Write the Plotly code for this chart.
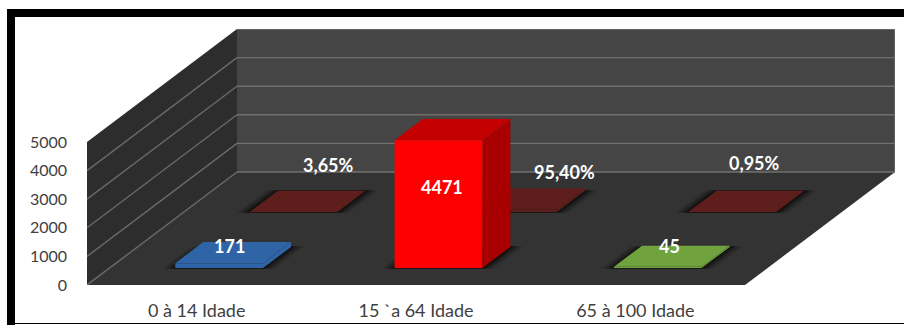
import plotly.graph_objects as go

# Chart data
categories = ["0 à 14 Idade", "15 `a 64 Idade", "65 à 100 Idade"]
counts = [171, 4471, 45]
count_colors = ["#2F65A6", "#FF0000", "#70A23E"]
shares = [3.65, 95.40, 0.95]
share_labels = ["3,65%", "95,40%", "0,95%"]
value_ticks = [0, 1000, 2000, 3000, 4000, 5000]

# Canvas and plot-area layout (pixels)
WIDTH, HEIGHT = 904, 325
LEFT, RIGHT, TOP, BOTTOM = 87, 895, 29, 285

# Oblique projection: depth 0 is the front of the floor, depth 1 the back wall
X_MAX = 3 + 150 / 219.33
Y_MAX = 5000 * 256 / 143
DEPTH_X = 150 / 219.33
DEPTH_Y = 5000 * 113 / 143
BAR_WIDTH = 0.40
BAR_DEPTH = 0.187
FRONT_ROW = 0.15
BACK_ROW = 0.646


def project(cat, depth, value):
    return cat + depth * DEPTH_X, value + depth * DEPTH_Y


def polygon(points, color, opacity=1.0):
    xs, ys = zip(*[project(*p) for p in points + points[:1]])
    return go.Scatter(
        x=xs, y=ys, mode="lines", fill="toself", fillcolor=color,
        line=dict(width=0), opacity=opacity, hoverinfo="skip", showlegend=False,
    )


def segment(p, q, color, width=1.4):
    xs, ys = zip(project(*p), project(*q))
    return go.Scatter(
        x=xs, y=ys, mode="lines", line=dict(color=color, width=width),
        hoverinfo="skip", showlegend=False,
    )


def shadow(center, row):
    # Soft dark halo on the floor beneath a bar
    traces = []
    for grow, alpha in ((0.055, 0.12), (0.04, 0.18), (0.025, 0.26), (0.012, 0.34)):
        x0, x1 = center - BAR_WIDTH / 2 - grow, center + BAR_WIDTH / 2 + grow
        d0, d1 = row - 0.006, row + BAR_DEPTH + 0.006
        traces.append(polygon([(x0, d0, 0), (x1, d0, 0), (x1, d1, 0), (x0, d1, 0)], "#000000", alpha))
    return traces


def box(center, row, value, front, top, side):
    x0, x1 = center - BAR_WIDTH / 2, center + BAR_WIDTH / 2
    d0, d1 = row, row + BAR_DEPTH
    return [
        polygon([(x1, d0, 0), (x1, d1, 0), (x1, d1, value), (x1, d0, value)], side),
        polygon([(x0, d0, value), (x1, d0, value), (x1, d1, value), (x0, d1, value)], top),
        polygon([(x0, d0, 0), (x1, d0, 0), (x1, d0, value), (x0, d0, value)], front),
    ]


traces = []

# Walls and floor
traces.append(polygon([(0, 0, 0), (0, 1, 0), (0, 1, Y_MAX - DEPTH_Y), (0, 0, Y_MAX - DEPTH_Y)], "#2D2D2D"))
traces.append(polygon([(0, 1, 0), (3, 1, 0), (3, 1, Y_MAX - DEPTH_Y), (0, 1, Y_MAX - DEPTH_Y)], "#454545"))
traces.append(polygon([(0, 0, 0), (3, 0, 0), (3, 1, 0), (0, 1, 0)], "#333333"))

# Gridlines across the side wall and the back wall
for tick in value_ticks:
    if tick < value_ticks[-1]:
        traces.append(segment((0, 0, tick), (0, 1, tick), "#6A6A6A"))
    traces.append(segment((0, 1, tick), (3, 1, tick), "#707070"))
traces.append(segment((3, 1, 0), (3, 1, 5000), "#707070"))

# Rear row: percentage shares
for i, share in enumerate(shares):
    traces += shadow(i + 0.5, BACK_ROW)
for i, share in enumerate(shares):
    traces += box(i + 0.5, BACK_ROW, share, "#5E1F1C", "#5E1F1C", "#5E1F1C")

# Front row: counts
for i, count in enumerate(counts):
    traces += shadow(i + 0.5, FRONT_ROW)
for i, (count, color) in enumerate(zip(counts, count_colors)):
    if count > 1000:
        traces += box(i + 0.5, FRONT_ROW, count, color, "#C40000", "#A80000")
    else:
        traces += box(i + 0.5, FRONT_ROW, count, color, color, color)

fig = go.Figure(traces)


# Data labels, nudged in pixels from the faces they describe
LABEL_FONT = dict(family="Lato, Open Sans, sans-serif", size=18, color="#FFFFFF", weight="bold")
count_shifts = [(-4, 7), (3, 17), (-2, 10)]
share_shifts = [(21, 36), (38, 27), (8, 38)]

for i, (count, (sx, sy)) in enumerate(zip(counts, count_shifts)):
    depth = FRONT_ROW if count > 1000 else FRONT_ROW + BAR_DEPTH / 2
    height = count / 2 if count > 1000 else count
    x, y = project(i + 0.5, depth, height)
    fig.add_annotation(x=x, y=y, text=str(count), showarrow=False, xshift=sx, yshift=sy, font=LABEL_FONT)

for i, (label, (sx, sy)) in enumerate(zip(share_labels, share_shifts)):
    x, y = project(i + 0.5, BACK_ROW + BAR_DEPTH / 2, shares[i])
    fig.add_annotation(x=x, y=y, text=label, showarrow=False, xshift=sx, yshift=sy, font=LABEL_FONT)


def paper_rect(x0, y0, x1, y1):
    # Frame rectangle given in canvas pixels, converted to paper fractions
    return dict(
        type="rect", xref="paper", yref="paper", layer="above",
        x0=(x0 - LEFT) / (RIGHT - LEFT), x1=(x1 - LEFT) / (RIGHT - LEFT),
        y0=(BOTTOM - y0) / (BOTTOM - TOP), y1=(BOTTOM - y1) / (BOTTOM - TOP),
        fillcolor="#000000", line=dict(width=0),
    )


X_FONT = dict(family="Lato, Open Sans, sans-serif", size=18, color="#3F3F3F")
Y_FONT = dict(family="Lato, Open Sans, sans-serif", size=16, color="#3F3F3F")

fig.update_layout(
    width=WIDTH, height=HEIGHT, autosize=False,
    margin=dict(l=LEFT, r=WIDTH - RIGHT, t=TOP, b=HEIGHT - BOTTOM, pad=0),
    paper_bgcolor="#FFFFFF", plot_bgcolor="#FFFFFF", showlegend=False,
    xaxis=dict(
        range=[0, X_MAX], tickmode="array", tickvals=[0.5, 1.5, 2.5], ticktext=categories,
        showgrid=False, zeroline=False, showline=False, ticks="", tickfont=X_FONT,
        ticklabelstandoff=13, fixedrange=True, automargin=False,
    ),
    yaxis=dict(
        range=[0, Y_MAX], tickmode="array", tickvals=value_ticks,
        showgrid=False, zeroline=False, showline=False, ticks="", tickfont=Y_FONT,
        ticklabelstandoff=19, fixedrange=True, automargin=False,
    ),
    shapes=[
        paper_rect(7, 9, 904, 17),
        paper_rect(7, 9, 15, 325),
        paper_rect(15, 323, 904, 324),
    ],
)

fig.write_html("out.html", config=dict(displayModeBar=False))
